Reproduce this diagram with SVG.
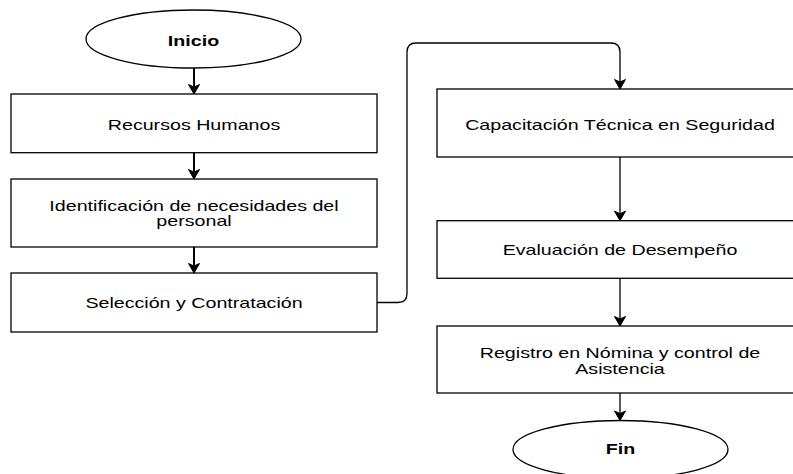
<svg xmlns="http://www.w3.org/2000/svg" width="793" height="474" viewBox="0 0 793 474">
  <style>
    .shape { fill: #ffffff; stroke: #000000; stroke-width: 1.3; }
    .label { font-family: "Liberation Sans", Arial, sans-serif; font-size: 15px; fill: #000000; text-anchor: middle; }
    .bold { font-weight: bold; }
    .edge { fill: none; stroke: #000000; }
    .thick { stroke-width: 2; }
    .thin { stroke-width: 1.3; }
  </style>
  <defs>
    <marker id="arrow" markerUnits="userSpaceOnUse" markerWidth="12" markerHeight="12" viewBox="0 0 12 12" refX="10" refY="6" orient="auto" overflow="visible">
      <path d="M0.5,0.5 L10,6 L0.5,11.5 L3,6 Z" fill="#000000" stroke="#000000" stroke-width="1"/>
    </marker>
  </defs>
  <rect width="793" height="474" fill="#ffffff"/>

  <!-- connectors -->
  <g id="connectors">
    <path class="edge thick" d="M194,68 V94" marker-end="url(#arrow)"/>
    <path class="edge thick" d="M194,152.7 V179" marker-end="url(#arrow)"/>
    <path class="edge thick" d="M194,247 V273" marker-end="url(#arrow)"/>
    <path class="edge thin" d="M377,302.5 H398 Q407,302.5 407,293.5 V52 Q407,43 416,43 H611 Q620,43 620,52 V89" marker-end="url(#arrow)"/>
    <path class="edge thin" d="M620,157 V220.7" marker-end="url(#arrow)"/>
    <path class="edge thin" d="M620,278.3 V326" marker-end="url(#arrow)"/>
    <path class="edge thin" d="M620,393 V420.5" marker-end="url(#arrow)"/>
  </g>

  <!-- start -->
  <g id="inicio">
    <ellipse class="shape" cx="193.5" cy="39" rx="107.5" ry="29"/>
    <text class="label bold" transform="translate(193.5 45.5) scale(1.31 1)">Inicio</text>
  </g>

  <!-- left column -->
  <g id="recursos-humanos">
    <rect class="shape" x="11" y="94" width="366" height="58.7"/>
    <text class="label" transform="translate(194 130) scale(1.31 1)">Recursos Humanos</text>
  </g>
  <g id="identificacion">
    <rect class="shape" x="11" y="179" width="366" height="68"/>
    <text class="label" transform="translate(194 210.5) scale(1.31 1)">Identificación de necesidades del</text>
    <text class="label" transform="translate(194 226) scale(1.31 1)">personal</text>
  </g>
  <g id="seleccion">
    <rect class="shape" x="11" y="273" width="366" height="59"/>
    <text class="label" transform="translate(194 308) scale(1.31 1)">Selección y Contratación</text>
  </g>

  <!-- right column -->
  <g id="capacitacion">
    <rect class="shape" x="437" y="89" width="366" height="68"/>
    <text class="label" transform="translate(620 129.5) scale(1.31 1)">Capacitación Técnica en Seguridad</text>
  </g>
  <g id="evaluacion">
    <rect class="shape" x="437" y="220.7" width="366" height="57.6"/>
    <text class="label" transform="translate(620 255) scale(1.31 1)">Evaluación de Desempeño</text>
  </g>
  <g id="registro">
    <rect class="shape" x="437" y="326" width="366" height="67"/>
    <text class="label" transform="translate(620 358) scale(1.31 1)">Registro en Nómina y control de</text>
    <text class="label" transform="translate(620 373.5) scale(1.31 1)">Asistencia</text>
  </g>

  <!-- end -->
  <g id="fin">
    <ellipse class="shape" cx="620.5" cy="449.5" rx="107.5" ry="29"/>
    <text class="label bold" transform="translate(620.5 453.5) scale(1.31 1)">Fin</text>
  </g>
</svg>
